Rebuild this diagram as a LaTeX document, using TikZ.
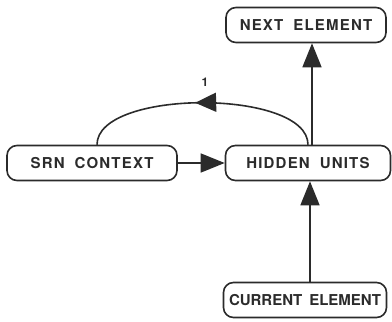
\documentclass[tikz,border=0pt]{standalone}
\usepackage{fontspec}
\newfontfamily\boxfont[LetterSpace=8]{TeX Gyre Heros}
\newfontfamily\tightfont{TeX Gyre Heros}
\usetikzlibrary{arrows.meta, decorations.markings}
\definecolor{ink}{HTML}{2B2B2B}
\newcommand{\wgap}{\hspace{10pt}}

\begin{document}
\begin{tikzpicture}[x=1pt, y=-1pt,
          unit/.style={draw=ink, line width=1.6pt, rounded corners=10pt, minimum height=35pt,
                       inner sep=0pt, text=ink, font=\boxfont\bfseries\fontsize{15}{17}\selectfont},
          arrow/.style={-{Triangle[length=24pt, width=19pt]}, line width=1.6pt, draw=ink},
          loopback/.style={line width=1.6pt, draw=ink, postaction={decorate},
                       decoration={markings, mark=at position 0.53 with {\arrow{Triangle[length=21pt, width=19pt]}}}}
        ]
          \useasboundingbox (0,0) rectangle (392,322);

          % layers
          \node[unit, minimum width=160pt] (next) at (306,25) {NEXT\wgap ELEMENT};
          \node[unit, minimum width=165pt] (hidden) at (308,163) {HIDDEN\wgap UNITS};
          \node[unit, minimum width=170pt] (context) at (92,163) {SRN\wgap CONTEXT};
          \node[unit, minimum width=163pt, font=\tightfont\bfseries\fontsize{15}{17}\selectfont] (current) at (305,300) {CURRENT\hspace{7pt}ELEMENT};

          % forward connections
          \draw[arrow] (current.north -| 310,0) -- (hidden.south -| 310,0);
          \draw[arrow] (hidden.north -| 312,0) -- (next.south -| 312,0);
          \draw[arrow] (context) -- (hidden);

          % copy-back connection
          \draw[loopback] (hidden.north) .. controls +(0,-56) and +(0,-56) .. ([xshift=5pt]context.north);
          \node[text=ink, font=\tightfont\bfseries\fontsize{12}{14}\selectfont] (weight) at (205,82) {1};
\end{tikzpicture}
\end{document}
